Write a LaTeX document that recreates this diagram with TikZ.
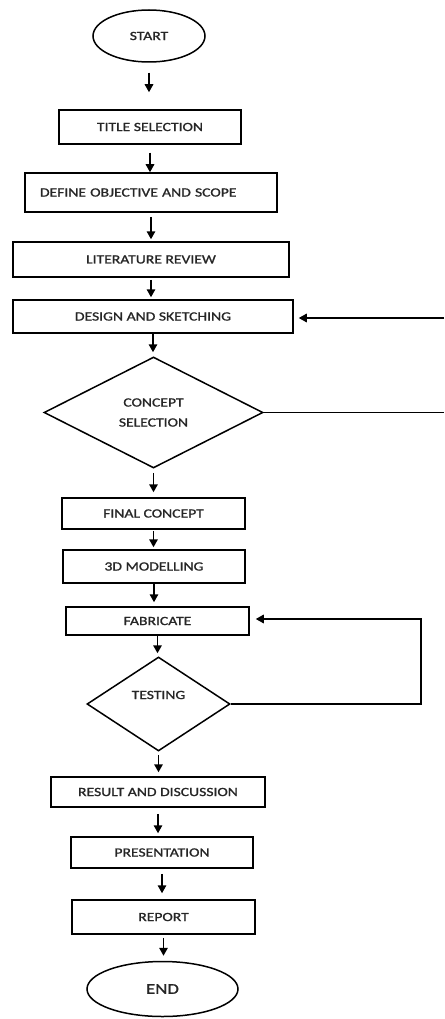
\documentclass[tikz,border=0pt]{standalone}
\usepackage{fontspec}
\setmainfont{Carlito}[FakeStretch=1.25,FakeBold=1.2]
\usetikzlibrary{shapes.geometric,arrows.meta}
\begin{document}
\begin{tikzpicture}[x=1pt,y=-1pt,
  every node/.style={font=\fontsize{12.5}{17}\selectfont, text=black!85, inner sep=0pt},
  box/.style={draw, line width=1.5pt, rectangle, align=center},
  term/.style={draw, line width=1.5pt, ellipse},
  decision/.style={draw, line width=1.5pt, diamond, align=center},
  flow/.style={line width=1.5pt, -{Triangle[length=8pt,width=8.5pt]}},
  plain/.style={line width=1.5pt}
]
\useasboundingbox (0,0) rectangle (444,1019);
\fill[white] (0,0) rectangle (444,1019);

\node[term, minimum width=112pt, minimum height=52pt] (start) at (149,36) {START};
\node[box, minimum width=182pt, minimum height=34pt] (title) at (150,127) {TITLE SELECTION};
\node[box, minimum width=252pt, minimum height=39pt, text width=222pt, inner xsep=15pt, align=left] (define) at (151,192.5) {DEFINE OBJECTIVE AND SCOPE};
\node[box, minimum width=276pt, minimum height=35pt] (lit) at (151,259.5) {LITERATURE REVIEW};
\node[box, minimum width=280pt, minimum height=33pt] (design) at (153,316.5) {DESIGN AND SKETCHING};
\node[decision, minimum width=219pt, minimum height=111pt] (concept) at (153.5,412.5) {CONCEPT\\[3pt]SELECTION};
\node[box, minimum width=183pt, minimum height=31pt] (final) at (153.5,513.5) {FINAL CONCEPT};
\node[box, minimum width=182pt, minimum height=33pt] (model) at (154,566.5) {3D MODELLING};
\node[box, minimum width=183pt, minimum height=28pt] (fab) at (157.5,621) {FABRICATE};
\node[decision, minimum width=143pt, minimum height=94pt] (testing) at (158.5,704) {};
\node (testingtext) at (158.5,695) {TESTING};
\node[box, minimum width=214pt, minimum height=30pt] (result) at (158,792) {RESULT AND DISCUSSION};
\node[box, minimum width=182pt, minimum height=31pt] (pres) at (162,852.5) {PRESENTATION};
\node[box, minimum width=183pt, minimum height=34pt] (report) at (163.5,917) {REPORT};
\node[term, minimum width=151pt, minimum height=55pt, font=\fontsize{15}{18}\selectfont] (end) at (162.5,989) {END};

\coordinate (loopA) at (444,412.5);
\coordinate (loopB) at (444,318);
\coordinate (loopC) at (421,704);
\coordinate (loopD) at (421,619);

\draw[flow, shorten <=10pt, shorten >=17pt] (start.south) -- (start.south |- title.north);
\draw[flow, shorten <=8pt] (title.south) -- (title.south |- define.north);
\draw[flow, shorten <=4pt, shorten >=2pt] (define.south) -- (define.south |- lit.north);
\draw[flow, shorten <=2pt, shorten >=2pt] (lit.south) -- (lit.south |- design.north);
\draw[flow, shorten >=4pt] (design.south) -- (design.south |- concept.north);
\draw[flow, shorten <=4pt, shorten >=5pt] (concept.south) -- (concept.south |- final.north);
\draw[flow, shorten <=1pt, shorten >=2pt] (final.south) -- (final.south |- model.north);
\draw[flow, shorten >=4pt] (model.south) -- (model.south |- fab.north);
\draw[flow, shorten >=3pt] (fab.south) -- (fab.south |- testing.north);
\draw[flow, shorten <=3pt, shorten >=4pt] (testing.south) -- (testing.south |- result.north);
\draw[flow, shorten <=6pt, shorten >=3pt] (result.south) -- (result.south |- pres.north);
\draw[flow, shorten <=5pt, shorten >=6pt] (pres.south) -- (pres.south |- report.north);
\draw[flow, shorten <=3pt, shorten >=5pt] (report.south) -- (report.south |- end.north);

\draw[plain] (concept.east) -- (loopA);
\draw[flow, shorten >=5pt] (loopB) -- (design.east |- loopB);
\draw[flow, shorten >=6pt] (testing.east) -- (loopC) -- (loopD) -- (fab.east |- loopD);
\end{tikzpicture}
\end{document}
